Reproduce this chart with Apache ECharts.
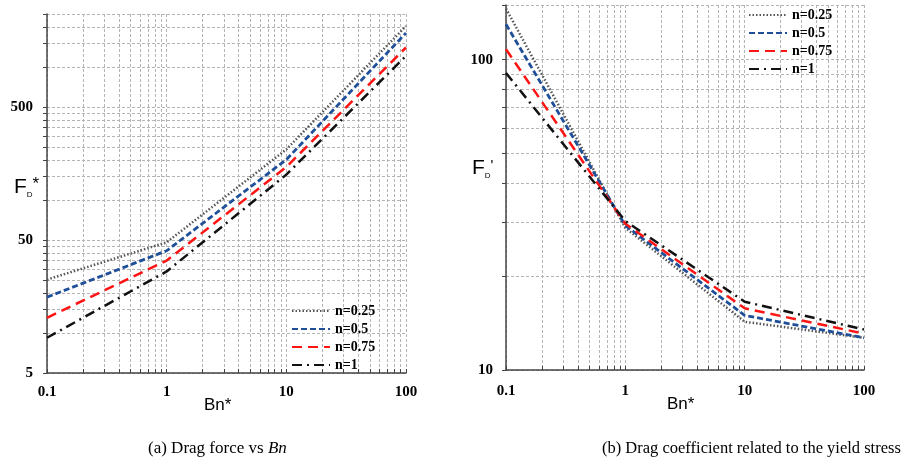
<!DOCTYPE html>
<html>
<head>
<meta charset="utf-8">
<script src="https://cdn.jsdelivr.net/npm/echarts@6/dist/echarts.min.js"></script>
<style>
html, body { margin: 0; background: #fff; }
#chart { width: 905px; height: 471px; }
</style>
</head>
<body>
<div id="chart"></div>
<script>
var bn = [0.1, 1, 10, 100];
var seriesNames = ['n=0.25', 'n=0.5', 'n=0.75', 'n=1'];

// (a) drag force F_D* vs Bn*
var force025 = [25.2, 48, 240, 2030];
var force05 = [18.6, 41.5, 201, 1800];
var force075 = [13.0, 35, 177, 1400];
var force1 = [9.2, 29, 155, 1210];

// (b) drag coefficient F_D' vs Bn*
var coef025 = [146, 28.7, 14.3, 12.7];
var coef05 = [130, 29.2, 15.0, 12.7];
var coef075 = [108, 29.6, 15.8, 13.1];
var coef1 = [90.6, 30.2, 16.6, 13.5];

// tick labels and grid lines
var xLabels = [0.1, 1, 10, 100];
var xGrid = [0.1, 0.2, 0.3, 0.4, 0.5, 0.6, 0.7, 0.8, 0.9, 1, 2, 3, 4, 5, 6, 7, 8, 9,
             10, 20, 30, 40, 50, 60, 70, 80, 90, 100];
var forceLabels = [5, 50, 500];
var forceGrid = [5, 10, 15, 20, 25, 30, 35, 40, 45, 50, 100, 150, 200, 250, 300, 350, 400, 450,
                 500, 1000, 1500, 2000, 2500];
var coefLabels = [10, 100];
var coefGrid = [10, 20, 30, 40, 50, 60, 70, 80, 90, 100, 150];

var lineStyles = [
    { color: '#555555', width: 2.5, type: [1.5, 2] },
    { color: '#1f4f98', width: 2.8, type: [6, 3] },
    { color: '#ff1414', width: 2.5, type: [10, 6] },
    { color: '#111111', width: 2.5, type: [10, 5, 2, 5] }
];

function pairs(ys) {
    return bn.map(function (x, i) { return [x, ys[i]]; });
}

function makeSeries(values, idx) {
    var out = [];
    values.forEach(function (ys, k) {
        out.push({
            name: seriesNames[k],
            type: 'line',
            xAxisIndex: idx,
            yAxisIndex: idx,
            data: pairs(ys),
            showSymbol: false,
            lineStyle: lineStyles[k],
            itemStyle: { color: lineStyles[k].color },
            animation: false
        });
    });
    return out;
}

var labelFont = { fontFamily: 'Liberation Serif', fontWeight: 'bold', fontSize: 15, color: '#000' };
var gridLine = { show: true, lineStyle: { color: '#b4b4b4', type: [3, 2], width: 1 } };

function xAxis(idx, margin) {
    return {
        type: 'log', logBase: 10, min: 0.1, max: 100, gridIndex: idx,
        axisLine: { lineStyle: { color: '#444', width: 1.5 } },
        axisTick: { inside: true, length: 4, customValues: xGrid, lineStyle: { color: '#444' } },
        axisLabel: Object.assign({ customValues: xLabels, margin: margin }, labelFont),
        splitLine: gridLine
    };
}

function yAxis(idx, min, max, labels, grid, margin) {
    return {
        type: 'log', logBase: 10, min: min, max: max, gridIndex: idx,
        axisLine: { show: true, lineStyle: { color: '#444', width: 1.5 } },
        axisTick: { show: true, length: 4, customValues: grid, lineStyle: { color: '#444' } },
        axisLabel: Object.assign({ customValues: labels, margin: margin }, labelFont),
        splitLine: gridLine
    };
}

var legendText = { fontFamily: 'Liberation Serif', fontWeight: 'bold', fontSize: 14, color: '#000' };

function legend(left, top) {
    return {
        data: seriesNames, orient: 'vertical', left: left, top: top, padding: 0,
        itemWidth: 38, itemHeight: 14, itemGap: 4, textStyle: legendText,
        itemStyle: { opacity: 0 }
    };
}

var option = {
    backgroundColor: '#fff',
    animation: false,
    grid: [
        { left: 47, top: 14, width: 359, height: 359 },
        { left: 506, top: 5, width: 358, height: 365 }
    ],
    xAxis: [xAxis(0, 12), xAxis(1, 14)],
    yAxis: [
        yAxis(0, 5, 2500, forceLabels, forceGrid, 14),
        yAxis(1, 10, 150, coefLabels, coefGrid, 13)
    ],
    legend: [legend(291, 304), legend(748, 8)],
    series: makeSeries([force025, force05, force075, force1], 0)
        .concat(makeSeries([coef025, coef05, coef075, coef1], 1)),
    graphic: [
        {
            type: 'text', left: 204, top: 397,
            style: { text: 'Bn*', font: '17px "Liberation Sans"', fill: '#000' }
        },
        {
            type: 'text', left: 667, top: 396,
            style: { text: 'Bn*', font: '17px "Liberation Sans"', fill: '#000' }
        },
        {
            type: 'text', left: 14, top: 176,
            style: {
                text: '{f|F}{s|D}{a|*}',
                rich: {
                    f: { fontSize: 21, fontFamily: 'Liberation Sans', fill: '#000' },
                    s: { fontSize: 8, fontFamily: 'Liberation Sans', fill: '#000', padding: [14, 0, 0, 0] },
                    a: { fontSize: 17, fontFamily: 'Liberation Sans', fill: '#000', padding: [0, 0, 6, 0] }
                }
            }
        },
        {
            type: 'text', left: 472, top: 158,
            style: {
                text: "{f|F}{s|D}{a|'}",
                rich: {
                    f: { fontSize: 21, fontFamily: 'Liberation Sans', fill: '#000' },
                    s: { fontSize: 8, fontFamily: 'Liberation Sans', fill: '#000', padding: [14, 0, 0, 0] },
                    a: { fontSize: 15, fontFamily: 'Liberation Sans', fill: '#000', padding: [0, 0, 6, 0] }
                }
            }
        },
        {
            type: 'text', left: 148, top: 440,
            style: {
                text: '(a) Drag force vs {i|Bn}',
                font: '17px "Liberation Serif"', fill: '#000',
                rich: { i: { fontSize: 17, fontFamily: 'Liberation Serif', fontStyle: 'italic', fill: '#000' } }
            }
        },
        {
            type: 'text', left: 602, top: 440,
            style: { text: '(b) Drag coefficient related to the yield stress', font: '16.5px "Liberation Serif"', fill: '#000' }
        }
    ]
};

var chart = echarts.init(document.getElementById('chart'));
chart.setOption(option);
</script>
</body>
</html>
